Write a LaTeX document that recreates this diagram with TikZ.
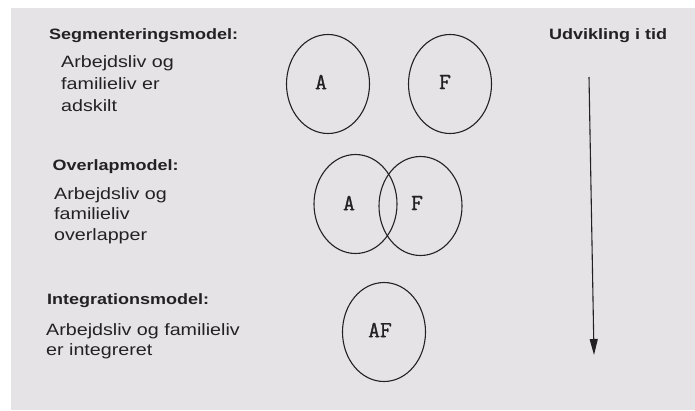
\documentclass[tikz,border=0pt]{standalone}
\usepackage{fontspec}
\usepackage{tikz}
\usetikzlibrary{arrows.meta,shapes.geometric}
\newfontfamily\helv[FakeStretch=1.2]{Liberation Sans}
\newfontfamily\typewr[FakeBold=1.2]{Latin Modern Mono}
\definecolor{paper}{RGB}{229,227,229}
\definecolor{ink}{RGB}{35,33,35}

\begin{document}
\begin{tikzpicture}[x=1pt,y=-1pt,
  heading/.style={anchor=north west,inner sep=0pt,text=ink,
    font=\helv\bfseries\fontsize{15}{18}\selectfont},
  bodytext/.style={anchor=north west,inner sep=0pt,align=left,text=ink,
    font=\helv\fontsize{16.4}{22}\selectfont},
  sphere/.style={draw=ink,line width=1.1pt,ellipse,inner sep=0pt,
    minimum width=83pt,minimum height=99pt},
  letter/.style={inner sep=0pt,text=ink,font=\typewr\fontsize{23}{23}\selectfont},
  timearrow/.style={draw=ink,line width=1.1pt,-{Triangle[length=16pt,width=8pt]}}]
% page
\fill[white] (0,0) rectangle (695,410);
\fill[paper] (11,8) rectangle (695,410);
\useasboundingbox (0,0) rectangle (695,410);

% segmentering
\node[heading] (seghead) at (49,28) {Segmenteringsmodel:};
\node[bodytext] (segbody) at (61,55) {Arbejdsliv og\\familieliv er\\adskilt};
\node[sphere] (segA) at (328,84) {};
\node[sphere] (segF) at (450,84) {};
\node[letter] (segAtxt) at (321,82) {A};
\node[letter] (segFtxt) at (445,82) {F};

% overlap
\node[heading] (ovlhead) at (52.5,159.3) {Overlapmodel:};
\node[bodytext,font=\helv\fontsize{16.4}{20.5}\selectfont] (ovlbody) at (54,187) {Arbejdsliv og\\familieliv\\overlapper};
\node[sphere] (ovlA) at (355.5,204) {};
\node[sphere] (ovlF) at (420.5,206) {};
\node[letter] (ovlAtxt) at (349,203) {A};
\node[letter] (ovlFtxt) at (417,203) {F};

% integration
\node[heading] (inthead) at (47,293) {Integrationsmodel:};
\node[bodytext,font=\helv\fontsize{16.4}{20}\selectfont] (intbody) at (46,323) {Arbejdsliv og familieliv\\er integreret};
\node[sphere] (intAF) at (384,332) {};
\node[letter] (intAFtxt) at (380,330) {AF};

% tid
\node[heading] (timehead) at (549,28) {Udvikling i tid};
\coordinate (tstart) at (589,77);
\coordinate (tend) at (594,355);
\draw[timearrow] (tstart) -- (tend);
\end{tikzpicture}
\end{document}
